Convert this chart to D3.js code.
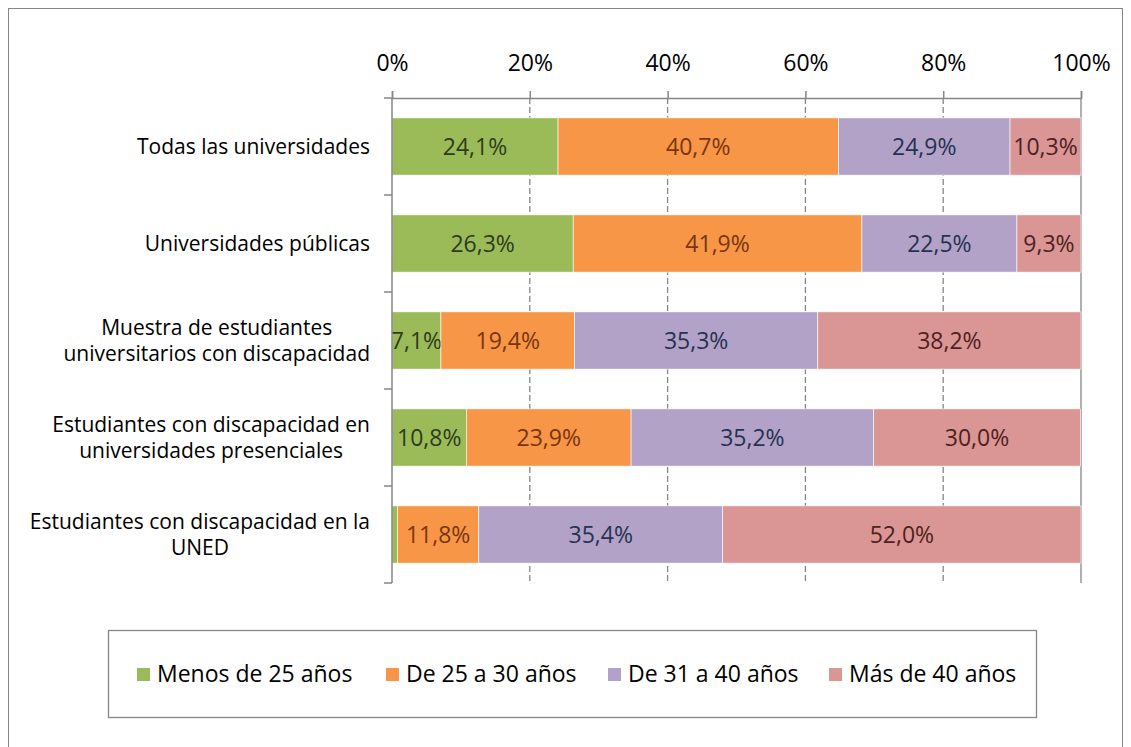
<!DOCTYPE html>
<html>
<head>
<meta charset="utf-8">
<script src="https://cdn.jsdelivr.net/npm/d3@7"></script>
<style>
  body { margin: 0; background: #fff; }
  svg text { font-family: "Open Sans", sans-serif; }
</style>
</head>
<body>
<div id="chart"></div>
<script>
// data
var categories = [
    ["Todas las universidades"],
    ["Universidades públicas"],
    ["Muestra de estudiantes", "universitarios con discapacidad"],
    ["Estudiantes con discapacidad en", "universidades presenciales"],
    ["Estudiantes con discapacidad en la", "UNED"]
];
var seriesNames = ["Menos de 25 años", "De 25 a 30 años", "De 31 a 40 años", "Más de 40 años"];
var menos25 = [24.1, 26.3, 7.1, 10.8, 0.8];
var de25a30 = [40.7, 41.9, 19.4, 23.9, 11.8];
var de31a40 = [24.9, 22.5, 35.3, 35.2, 35.4];
var mas40 = [10.3, 9.3, 38.2, 30.0, 52.0];
var tickValues = [0, 20, 40, 60, 80, 100];

var colors = ["#9BBB59", "#F79646", "#B2A2C7", "#D99694"];
var labelColors = ["#2f3b19", "#7a3510", "#26324f", "#4f2120"];

var width = 1131, height = 747;
var margin = { top: 98, left: 392, right: 50, bottom: 164 };

var svg = d3.select("#chart")
    .append("svg")
    .attr("width", width)
    .attr("height", height);

// outer chart frame
svg.append("rect")
    .attr("x", 8.5).attr("y", 8.5)
    .attr("width", 1114).attr("height", 760)
    .attr("fill", "none")
    .attr("stroke", "#868686");

var x = d3.scaleLinear().domain([0, 100]).range([margin.left, width - margin.right]);
var y = d3.scaleBand()
    .domain(d3.range(categories.length))
    .range([margin.top, height - margin.bottom]);

var barH = y.bandwidth() * 0.59;

// gridlines
svg.append("g")
    .selectAll("line")
    .data(tickValues.slice(1))
    .enter()
    .append("line")
    .attr("x1", function (d) { return x(d); })
    .attr("x2", function (d) { return x(d); })
    .attr("y1", margin.top)
    .attr("y2", height - margin.bottom)
    .attr("stroke", "#868686")
    .attr("stroke-width", 1.3)
    .attr("stroke-dasharray", function (d) { return d === 100 ? null : "6,3"; });

// stacked data
var rows = categories.map(function (c, i) {
    return [menos25[i], de25a30[i], de31a40[i], mas40[i]];
});

var barG = svg.append("g");
rows.forEach(function (vals, i) {
    var start = 0;
    vals.forEach(function (v, k) {
        var x0 = start;
        start += v;
        var yTop = y(i) + (y.bandwidth() - barH) / 2;
        barG.append("rect")
            .attr("x", x(x0))
            .attr("y", yTop)
            .attr("width", x(start) - x(x0))
            .attr("height", barH)
            .attr("fill", colors[k])
            .attr("stroke", "#fff")
            .attr("stroke-width", 0.6);
        if (v >= 5) {
            barG.append("text")
                .attr("x", (x(x0) + x(start)) / 2)
                .attr("y", yTop + barH / 2)
                .attr("dy", "0.35em")
                .attr("text-anchor", "middle")
                .attr("font-size", 23)
                .attr("fill", labelColors[k])
                .text(v.toFixed(1).replace(".", ",") + "%");
        }
    });
});

// top axis
var xAxis = d3.axisTop(x)
    .tickValues(tickValues)
    .tickSize(7)
    .tickPadding(20)
    .tickFormat(function (d) { return d + "%"; });

var gx = svg.append("g")
    .attr("transform", "translate(0," + margin.top + ")")
    .call(xAxis);
gx.select(".domain").attr("stroke", "#868686").attr("stroke-width", 1.5);
gx.selectAll(".tick line").attr("stroke", "#868686").attr("stroke-width", 1.5);
gx.selectAll(".tick text")
    .attr("font-size", 23)
    .attr("fill", "#000")
    .style("font-family", "'Open Sans', sans-serif");

// left axis
svg.append("line")
    .attr("x1", margin.left).attr("x2", margin.left)
    .attr("y1", margin.top).attr("y2", height - margin.bottom)
    .attr("stroke", "#868686").attr("stroke-width", 1.5);
svg.append("g")
    .selectAll("line")
    .data(d3.range(categories.length + 1))
    .enter()
    .append("line")
    .attr("x1", margin.left - 8).attr("x2", margin.left)
    .attr("y1", function (d) { return margin.top + d * y.step(); })
    .attr("y2", function (d) { return margin.top + d * y.step(); })
    .attr("stroke", "#868686").attr("stroke-width", 1.5);

// category labels, centred block, right edge at 370
var lineH = 26;
categories.forEach(function (lines, i) {
    var t = svg.append("text")
        .attr("font-size", 21)
        .attr("fill", "#000")
        .attr("text-anchor", "middle");
    var cy = y(i) + y.bandwidth() / 2 - (lines.length - 1) * lineH / 2;
    lines.forEach(function (s, j) {
        t.append("tspan")
            .attr("y", cy + j * lineH)
            .attr("dy", "0.35em")
            .text(s);
    });
    var w = 0;
    t.selectAll("tspan").each(function () { w = Math.max(w, this.getComputedTextLength()); });
    t.selectAll("tspan").attr("x", 370 - w / 2);
});

// legend
svg.append("rect")
    .attr("x", 108.5).attr("y", 630.5)
    .attr("width", 928).attr("height", 87)
    .attr("fill", "none")
    .attr("stroke", "#868686")
    .attr("stroke-width", 1.3);

var legendX = [137, 386, 608, 829];
var lg = svg.append("g")
    .selectAll("g")
    .data(seriesNames)
    .enter()
    .append("g")
    .attr("transform", function (d, i) { return "translate(" + legendX[i] + ",674)"; });
lg.append("rect")
    .attr("x", 0).attr("y", -6)
    .attr("width", 13).attr("height", 13)
    .attr("fill", function (d, i) { return colors[i]; });
lg.append("text")
    .attr("x", 20)
    .attr("dy", "0.35em")
    .attr("font-size", 23)
    .attr("fill", "#000")
    .text(function (d) { return d; });
</script>
</body>
</html>
